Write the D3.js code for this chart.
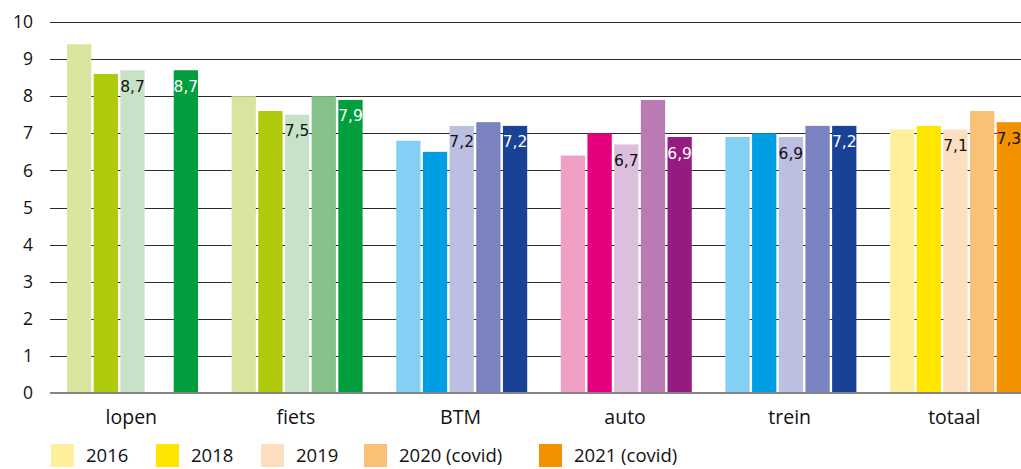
<!DOCTYPE html>
<html>
<head>
<meta charset="utf-8">
<script src="https://cdn.jsdelivr.net/npm/d3@7"></script>
<style>
  body { margin: 0; background: #fff; }
  svg { display: block; }
  text { font-family: "Open Sans", sans-serif; fill: #111; }
</style>
</head>
<body>
<svg id="chart" width="1021" height="469"></svg>
<script>
// categories and years
const categories = ['lopen', 'fiets', 'BTM', 'auto', 'trein', 'totaal'];
const years = ['2016', '2018', '2019', '2020 (covid)', '2021 (covid)'];

// scores per year, one value per category (null = no data)
const v2016 = [9.4, 8.0, 6.8, 6.4, 6.9, 7.1];
const v2018 = [8.6, 7.6, 6.5, 7.0, 7.0, 7.2];
const v2019 = [8.7, 7.5, 7.2, 6.7, 6.9, 7.1];
const v2020 = [null, 8.0, 7.3, 7.9, 7.2, 7.6];
const v2021 = [8.7, 7.9, 7.2, 6.9, 7.2, 7.3];
const seriesValues = [v2016, v2018, v2019, v2020, v2021];

// only these years get a value label
const labelledYears = ['2019', '2021 (covid)'];

const yTicks = [0, 1, 2, 3, 4, 5, 6, 7, 8, 9, 10];

// each category has its own palette (light -> dark)
const palettes = {
  lopen:  ['#d9e49e', '#afca0b', '#c8e2c7', '#85c188', '#009e3d'],
  fiets:  ['#d9e49e', '#afca0b', '#c8e2c7', '#85c188', '#009e3d'],
  BTM:    ['#84d0f5', '#009fe3', '#bcbfe2', '#7a83bf', '#194196'],
  auto:   ['#f19ec5', '#e5007d', '#dbbfdc', '#ba7ab3', '#951b81'],
  trein:  ['#84d0f5', '#009fe3', '#bcbfe2', '#7a83bf', '#194196'],
  totaal: ['#fdef9b', '#ffe500', '#fddfbf', '#f9c077', '#f39200']
};

const svg = d3.select('#chart');
const left = 50, right = 1021;

const x0 = d3.scaleBand()
  .domain(categories)
  .range([left, left + 6 * 164.6]);

const x1 = d3.scaleBand()
  .domain(years)
  .range([17, 148])
  .paddingInner(0.09);

const y = d3.scaleLinear()
  .domain([0, 10])
  .range([393, 22]);

const nl = d3.formatLocale({ decimal: ',', thousands: '.', grouping: [3], currency: ['€', ''] });
const fmt = nl.format('.1f');

// gridlines
svg.append('g')
  .selectAll('line')
  .data(yTicks.filter(d => d > 0))
  .enter()
  .append('line')
  .attr('x1', left)
  .attr('x2', right)
  .attr('y1', d => Math.round(y(d)) + 0.5)
  .attr('y2', d => Math.round(y(d)) + 0.5)
  .attr('stroke', '#2a2a2a')
  .attr('stroke-width', 1);

// y tick labels
svg.append('g')
  .selectAll('text')
  .data(yTicks)
  .enter()
  .append('text')
  .attr('x', 33)
  .attr('y', d => y(d))
  .attr('dy', '0.35em')
  .attr('text-anchor', 'end')
  .style('font-size', '17.5px')
  .text(d => d);

// bars
const rows = [];
categories.forEach((c, ci) => {
  years.forEach((yr, si) => {
    const v = seriesValues[si][ci];
    if (v != null) rows.push({ cat: c, year: yr, si, value: v, color: palettes[c][si] });
  });
});

const groups = svg.append('g');

groups.selectAll('.bar')
  .data(rows)
  .enter()
  .append('rect')
  .attr('class', 'bar')
  .attr('x', d => x0(d.cat) + x1(d.year))
  .attr('y', d => y(d.value))
  .attr('width', x1.bandwidth())
  .attr('height', d => y(0) - y(d.value))
  .attr('fill', d => d.color);

// value labels
groups.selectAll('.lbl')
  .data(rows.filter(d => labelledYears.includes(d.year)))
  .enter()
  .append('text')
  .attr('class', 'lbl')
  .attr('x', d => x0(d.cat) + x1(d.year) + x1.bandwidth() / 2)
  .attr('y', d => y(d.value) + 21.5)
  .attr('text-anchor', 'middle')
  .style('font-family', '"DejaVu Sans", Verdana, sans-serif')
  .style('font-size', '15.5px')
  .style('fill', d => d3.lab(d.color).l < 62 ? '#ffffff' : '#111')
  .text(d => fmt(d.value));

// x axis line
svg.append('line')
  .attr('x1', left)
  .attr('x2', right)
  .attr('y1', y(0))
  .attr('y2', y(0))
  .attr('stroke', '#858585')
  .attr('stroke-width', 2);

// category labels
svg.append('g')
  .selectAll('text')
  .data(categories)
  .enter()
  .append('text')
  .attr('x', d => x0(d) + x0.bandwidth() / 2 - 1)
  .attr('y', 424)
  .attr('text-anchor', 'middle')
  .style('font-size', '19.5px')
  .text(d => d);

// legend (uses the totaal palette)
const legendX = [51, 156, 261, 364, 539];
const legend = svg.append('g')
  .selectAll('g')
  .data(years)
  .enter()
  .append('g')
  .attr('transform', (d, i) => `translate(${legendX[i]},444)`);

legend.append('rect')
  .attr('width', 23)
  .attr('height', 23)
  .attr('fill', (d, i) => palettes.totaal[i]);

legend.append('text')
  .attr('x', 35)
  .attr('y', 18)
  .style('font-size', '18.5px')
  .text(d => d);
</script>
</body>
</html>
